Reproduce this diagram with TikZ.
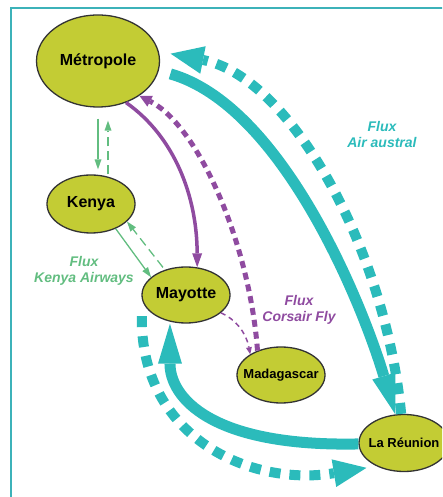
\documentclass[tikz,border=0pt]{standalone}
\usepackage{fontspec}
\setmainfont{Liberation Sans}
\usepackage{xcolor}
\usepackage{tikz}
\usetikzlibrary{shapes,arrows,positioning,calc,arrows.meta}

\definecolor{placefill}{RGB}{195,204,52}
\definecolor{airteal}{RGB}{43,187,187}
\definecolor{kengreen}{RGB}{98,189,128}
\definecolor{corpurple}{RGB}{143,75,160}
\definecolor{framecol}{RGB}{60,178,185}

\tikzset{
    place/.style={draw=black!80, line width=1.3pt, ellipse, fill=placefill, inner sep=0pt, inner xsep=-10pt, font=\fontsize{16}{18}\selectfont\bfseries},
    small place/.style={place, font=\fontsize{13}{15}\selectfont\bfseries},
    flux/.style={align=center, font=\fontsize{14}{16}\selectfont\bfseries\itshape},
    airsolid/.style={draw=airteal, line width=11pt, -{Triangle[length=40pt,width=24pt,line width=0pt]}},
    airdotted/.style={draw=airteal, line width=10pt, dash pattern=on 11pt off 9pt, -{Triangle[length=33pt,width=28pt,line width=0pt]}},
    corsolid/.style={draw=corpurple, line width=3.5pt, -{Triangle[length=14pt,width=10pt,line width=0pt]}},
    cordotted/.style={draw=corpurple, line width=5pt, dash pattern=on 7pt off 5pt, -{Triangle[length=12pt,width=12pt,line width=0pt]}},
    cordashed/.style={draw=corpurple, line width=1.5pt, dash pattern=on 5pt off 4pt, -{Triangle[length=7pt,width=6pt,line width=0pt]}},
    kensolid/.style={draw=kengreen, line width=1.3pt, -{Triangle[length=10pt,width=7pt,line width=0pt]}},
    kendashed/.style={draw=kengreen, line width=1.3pt, dash pattern=on 9pt off 5pt, -{Triangle[length=10pt,width=7pt,line width=0pt]}}
}

\begin{document}
\begin{tikzpicture}[x=1pt, y=1pt]
    \clip (0,0) rectangle (442,497);
    \draw[framecol, line width=2.5pt] (11,489) rectangle (480,-30);

    \node[place, minimum width=123pt, minimum height=92pt] (metro) at (98,436) {Métropole};
    \node[place, minimum width=88pt, minimum height=58pt] (kenya) at (91,293) {Kenya};
    \node[place, minimum width=88pt, minimum height=56pt] (mayotte) at (186,202) {Mayotte};
    \node[small place, minimum width=88pt, minimum height=56pt] (mada) at (281,122) {Madagascar};
    \node[small place, minimum width=90pt, minimum height=57pt] (reunion) at (404,54) {La Réunion};

    \draw[airsolid, shorten <=12pt] (metro.-9) .. controls (280,392) and (360,200) .. (reunion);
    \draw[airdotted, shorten >=12pt] (reunion) .. controls (385,250) and (290,420) .. (metro.9);
    \draw[airsolid, shorten >=2pt] (reunion) .. controls (210,50) and (170,100) .. (mayotte.-121);
    \draw[airdotted, shorten >=10pt] ([xshift=-14pt]mayotte.-145) .. controls (140,60) and (250,10) .. (reunion.-140);

    \draw[corsolid] (metro.-56) .. controls (175,360) and (197,300) .. (mayotte.68);
    \draw[cordotted] (mada.134) .. controls (250,250) and (200,370) .. (metro.-40);
    \draw[cordashed] (mayotte.-27) .. controls (235,178) and (246,165) .. (mada.146);

    \draw[kensolid, shorten <=11pt, shorten >=5pt] (metro.south) -- (metro.south |- kenya.north);
    \draw[kendashed, shorten >=13pt] ([xshift=17pt]kenya.north) -- ([xshift=17pt]kenya.north |- metro.south);
    \draw[kensolid] (kenya.-45) -- (mayotte.153);
    \draw[kendashed, shorten <=3pt] (mayotte.130) -- (kenya.-26);

    \node[flux, text=airteal] (airlabel) at (382,362) {Flux\\Air austral};
    \node[flux, text=kengreen] (kenlabel) at (84,226) {Flux\\Kenya Airways};
    \node[flux, text=corpurple] (corlabel) at (299,187) {Flux\\Corsair Fly};
\end{tikzpicture}
\end{document}
